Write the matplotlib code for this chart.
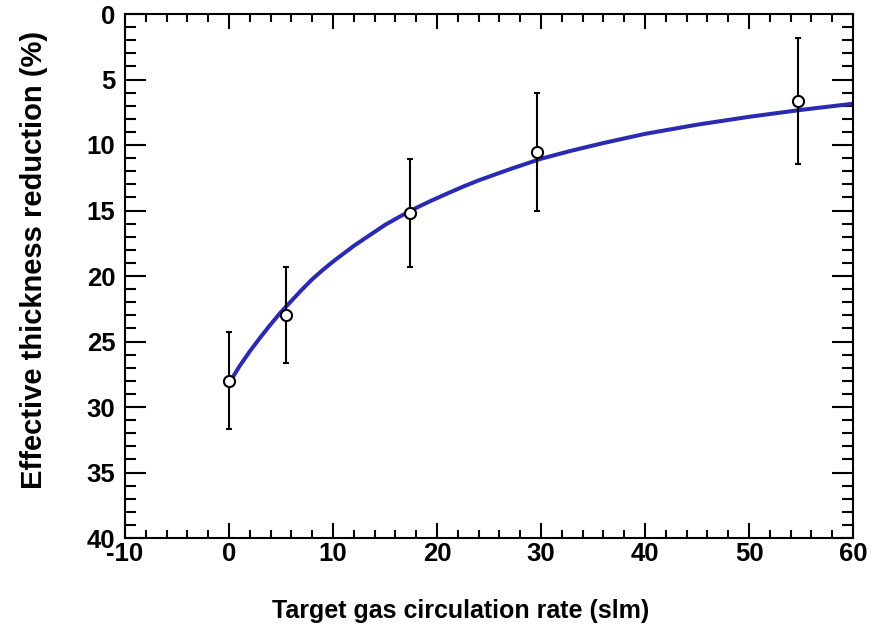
import matplotlib
matplotlib.use("Agg")
import matplotlib.pyplot as plt
from matplotlib.ticker import MultipleLocator

# Measured points
rate = [0.0, 5.5, 17.4, 29.6, 54.7]
reduction = [28.0, 23.0, 15.2, 10.55, 6.65]
reduction_err = [3.7, 3.65, 4.15, 4.5, 4.8]

# Fit curve
fit_rate = [0, 1, 2, 3, 4, 5, 6, 7, 8, 9, 10, 11, 12, 13.5, 15, 16.5, 18, 19.5, 21, 22.5,
            24, 27, 30, 33, 36, 40, 45, 50, 55, 60]
fit_reduction = [28.2, 26.9, 25.75, 24.7, 23.7, 22.75, 21.9, 21.05, 20.25, 19.55, 18.9,
                 18.3, 17.7, 16.9, 16.1, 15.43, 14.8, 14.23, 13.7, 13.18,
                 12.7, 11.85, 11.05, 10.42, 9.85, 9.15, 8.45, 7.85, 7.32, 6.85]

xlabel = "Target gas circulation rate (slm)"
ylabel = "Effective thickness reduction (%)"

plt.rcParams['font.family'] = ['Liberation Sans', 'DejaVu Sans']
plt.rcParams['font.weight'] = 'bold'
plt.rcParams['axes.unicode_minus'] = False

fig = plt.figure(figsize=(8.75, 6.32), dpi=100)
ax = fig.add_axes([125/875, 1 - 538/632, (853-125)/875, (538-14)/632])

ax.plot(fit_rate, fit_reduction, color='#2a2ab2', lw=2.9, zorder=2,
        solid_joinstyle='round')
ax.errorbar(rate, reduction, yerr=reduction_err, fmt='none', ecolor='black',
            elinewidth=1.5, capsize=2.3, capthick=1.5, zorder=3)
ax.plot(rate, reduction, 'o', ms=8, mfc='white', mec='black', mew=1.5, zorder=4)

ax.set_xlim(-10, 60)
ax.set_ylim(40, 0)

ax.xaxis.set_major_locator(MultipleLocator(10))
ax.xaxis.set_minor_locator(MultipleLocator(2))
ax.yaxis.set_major_locator(MultipleLocator(5))
ax.yaxis.set_minor_locator(MultipleLocator(1))

ax.tick_params(axis='both', which='both', direction='in', top=True, right=True,
               labelsize=18.5, width=1.5, color='black')
ax.tick_params(axis='x', which='major', length=11, pad=3)
ax.tick_params(axis='x', which='minor', length=5.5)
ax.tick_params(axis='y', which='major', length=15, pad=7)
ax.tick_params(axis='y', which='minor', length=8)

for lab in ax.get_xticklabels() + ax.get_yticklabels():
    lab.set_fontweight('bold')

for s in ax.spines.values():
    s.set_linewidth(1.5)

fig.text(461/875, 1 - 611/632, xlabel, ha='center', va='center', fontsize=18, fontweight='bold')
fig.text(34/875, 1 - 260/632, ylabel, ha='center', va='center', rotation=90,
         fontsize=21, fontweight='bold')

fig.savefig("out.png", dpi=100)
